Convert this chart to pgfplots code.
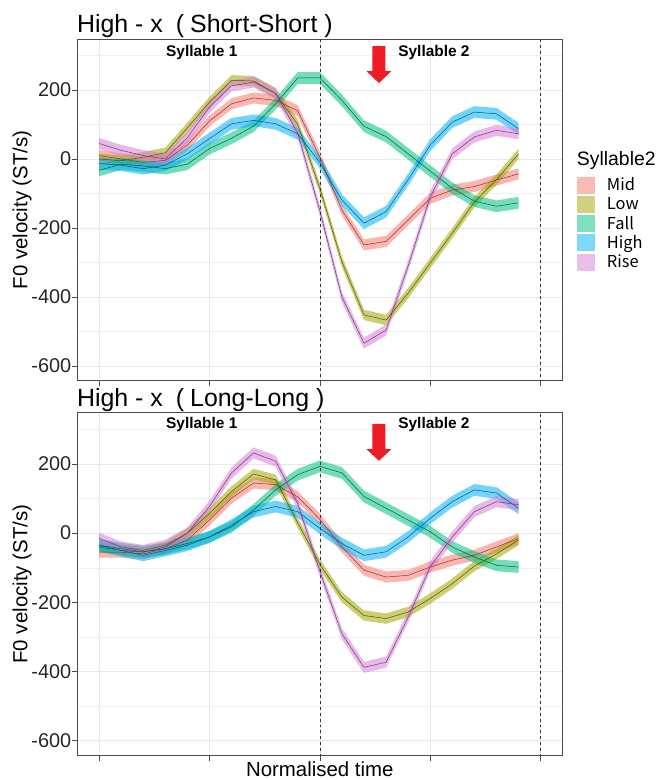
\documentclass[border=0pt]{standalone}
\usepackage{fontspec}
\setmainfont{Liberation Sans}
\newfontfamily\jp{Noto Sans CJK JP}
\usepackage{pgfplots}
\usepackage{pgfplotstable}
\pgfplotsset{compat=1.18}
\usepgfplotslibrary{fillbetween}

\definecolor{cmid}{HTML}{F8766D}
\definecolor{clow}{HTML}{A3A500}
\definecolor{cfall}{HTML}{00BF7D}
\definecolor{chigh}{HTML}{00B0F6}
\definecolor{crise}{HTML}{D77BD8}
\definecolor{arrowred}{HTML}{EE1C25}

% Short-Short
\pgfplotstableread{
t mid low fall high rise
0 10 0 -33 -13 45
1 0 -5 -15 -18 25
2 -10 5 -20 -28 10
3 -4 18 -28 -18 0
4 40 90 -15 15 62
5 110 165 30 59 150
6 160 228 60 102 212
7 177 226 95 112 223
8 170 190 160 102 190
9 140 100 235 73 75
10 5 -85 235 -10 -150
11 -148 -298 170 -119 -400
12 -249 -452 95 -186 -534
13 -239 -467 65 -153 -496
14 -177 -389 15 -60 -310
15 -114 -302 -35 40 -110
16 -90 -215 -85 107 15
17 -80 -125 -122 136 64
18 -61 -60 -137 131 83
19 -43 15 -127 88 73
}\shortshort

% Long-Long
\pgfplotstableread{
t mid low fall high rise
0 -55 -40 -35 -35 -15
1 -55 -50 -45 -50 -40
2 -60 -55 -54 -64 -50
3 -45 -40 -45 -50 -35
4 -20 0 -30 -35 0
5 38 57 -11 -11 77
6 101 120 18 23 174
7 145 171 67 62 232
8 140 154 125 77 208
9 105 30 169 62 85
10 40 -90 193 14 -110
11 -40 -185 174 -30 -291
12 -107 -238 106 -64 -388
13 -127 -247 72 -54 -373
14 -122 -228 38 -11 -243
15 -98 -189 4 43 -97
16 -78 -146 -40 91 -11
17 -64 -95 -69 125 62
18 -40 -60 -93 116 91
19 -16 -20 -98 72 82
}\longlong

\newcommand{\band}[4]{%
  \addplot[draw=none, forget plot, name path=u#2] table[x=t, y expr=\thisrow{#2}+#4] {#1};
  \addplot[draw=none, forget plot, name path=l#2] table[x=t, y expr=\thisrow{#2}-#4] {#1};
  \addplot[fill=#3, fill opacity=0.55, draw=none, forget plot] fill between[of=u#2 and l#2];
}
\newcommand{\mline}[3]{%
  \addplot[#3!50!black, line width=0.5bp, forget plot] table[x=t, y=#2] {#1};
}
\newcommand{\allseries}[1]{%
  \band{#1}{mid}{cmid}{16}
  \band{#1}{low}{clow}{15}
  \band{#1}{fall}{cfall}{17}
  \band{#1}{high}{chigh}{17}
  \band{#1}{rise}{crise}{16}
  \mline{#1}{mid}{cmid}
  \mline{#1}{low}{clow}
  \mline{#1}{fall}{cfall}
  \mline{#1}{high}{chigh}
  \mline{#1}{rise}{crise}
  \addplot[black!80, dashed, line width=0.6bp, forget plot] coordinates {(10,-700) (10,400)};
  \addplot[black!80, dashed, line width=0.6bp, forget plot] coordinates {(20,-700) (20,400)};
}

\pgfplotsset{
  panel/.style={
    scale only axis, width=486bp, height=342bp,
    xmin=-1, xmax=21, ymin=-643, ymax=348,
    xtick={0,5,...,20}, xticklabels={},
    ytick={-600,-400,...,200},
    minor ytick={-500,-300,...,300},
    grid=both,
    major grid style={color=black!9, line width=0.6bp},
    minor grid style={color=black!6, line width=0.4bp},
    axis line style={color=black!70, line width=0.8bp},
    tick style={color=black!70, line width=0.6bp},
    major tick length=5bp, minor tick length=0bp,
    tick align=outside, tick pos=left,
    yticklabel style={font=\fontsize{20}{22}\selectfont, text=black!85, inner sep=0.5bp},
    ylabel={F0 velocity (ST/s)},
    ylabel style={font=\fontsize{20.5}{22}\selectfont, at={(axis description cs:-0.113,0.5)}, anchor=center},
  },
  /pgf/number format/assume math mode=true,
}

\begin{document}
\begin{tikzpicture}
\path (0,0) rectangle (665bp,780bp);

\begin{axis}[panel, at={(77bp,399bp)}, anchor=south west,
  legend style={at={(1.029,0.6)}, anchor=north west, draw=none, fill=none,
    font=\fontsize{16.5}{18}\selectfont\jp, row sep=1bp, inner sep=0pt,
    cells={anchor=west},
    /tikz/every odd column/.append style={column sep=10bp}},
  legend cell align=left,
  legend image code/.code={\fill[#1, draw=none] (0bp,-8.5bp) rectangle (18bp,8.5bp);},
]
\allseries{\shortshort}
\addlegendimage{fill=cmid, fill opacity=0.5, draw=none}\addlegendentry{Mid}
\addlegendimage{fill=clow, fill opacity=0.5, draw=none}\addlegendentry{Low}
\addlegendimage{fill=cfall, fill opacity=0.5, draw=none}\addlegendentry{Fall}
\addlegendimage{fill=chigh, fill opacity=0.5, draw=none}\addlegendentry{High}
\addlegendimage{fill=crise, fill opacity=0.5, draw=none}\addlegendentry{Rise}
\fill[arrowred] (axis cs:12.38,327) -- (axis cs:12.97,327) -- (axis cs:12.97,255)
  -- (axis cs:13.24,255) -- (axis cs:12.68,220) -- (axis cs:12.11,255)
  -- (axis cs:12.38,255) -- cycle;
\node[font=\fontsize{15.5}{17}\selectfont\bfseries, anchor=base] at (rel axis cs:0.257,0.950) {Syllable 1};
\node[font=\fontsize{15.5}{17}\selectfont\bfseries, anchor=base] at (rel axis cs:0.735,0.950) {Syllable 2};
\end{axis}
\node[font=\fontsize{25}{27}\selectfont, anchor=base west, inner sep=0pt] at (77bp,747bp) {High - x\hspace{13bp}(\hspace{6bp}Short-Short\hspace{7bp})};
\node[font=\fontsize{19.5}{21}\selectfont, anchor=base west, inner sep=0pt] at (577bp,614bp) {Syllable2};

\begin{axis}[panel, at={(77bp,24bp)}, anchor=south west, height=343bp,
  xlabel={Normalised time},
  xlabel style={font=\fontsize{20.5}{22}\selectfont, at={(axis description cs:0.5,-0.061)}, anchor=base},
]
\allseries{\longlong}
\fill[arrowred] (axis cs:12.38,316) -- (axis cs:12.97,316) -- (axis cs:12.97,243)
  -- (axis cs:13.24,243) -- (axis cs:12.68,209) -- (axis cs:12.11,243)
  -- (axis cs:12.38,243) -- cycle;
\node[font=\fontsize{15.5}{17}\selectfont\bfseries, anchor=base] at (rel axis cs:0.257,0.953) {Syllable 1};
\node[font=\fontsize{15.5}{17}\selectfont\bfseries, anchor=base] at (rel axis cs:0.735,0.953) {Syllable 2};
\end{axis}
\node[font=\fontsize{25}{27}\selectfont, anchor=base west, inner sep=0pt] at (77bp,373bp) {High - x\hspace{13bp}(\hspace{6bp}Long-Long\hspace{7bp})};
\end{tikzpicture}
\end{document}
